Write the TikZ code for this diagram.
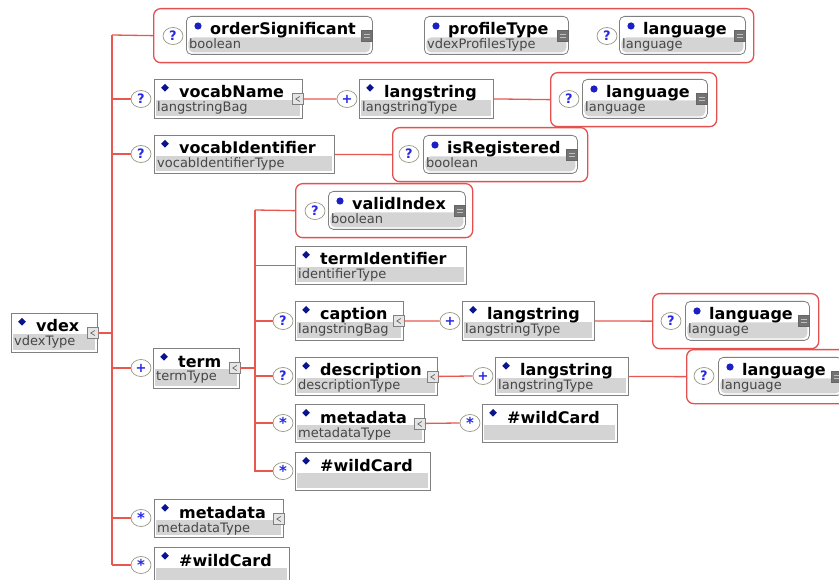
\documentclass[tikz,border=0pt]{standalone}
\usepackage{fontspec}
\setmainfont{DejaVu Sans}
\usetikzlibrary{shapes.geometric,calc}
\definecolor{linered}{RGB}{232,88,80}
\definecolor{grpred}{RGB}{228,80,80}
\definecolor{boxgray}{RGB}{128,128,128}
\definecolor{typegray}{RGB}{212,212,212}
\definecolor{navy}{RGB}{10,20,140}
\definecolor{symblue}{RGB}{40,40,230}
\definecolor{circgray}{RGB}{150,150,130}
\definecolor{typetxt}{RGB}{70,70,70}
\tikzset{
 elbox/.style={draw=boxgray, fill=white, line width=0.8pt, inner sep=0pt, anchor=north west, rectangle,
   path picture={\fill[typegray] ([xshift=2pt,yshift=2pt]path picture bounding box.south west) rectangle ([xshift=-2pt,yshift=-21pt]path picture bounding box.north east);}},
 atbox/.style={elbox, rounded corners=5pt},
 grpbox/.style={draw=grpred, fill=white, line width=1.3pt, rounded corners=7pt, inner sep=0pt, anchor=north west, rectangle},
 ttl/.style={font=\fontsize{16}{18}\selectfont\bfseries, inner sep=0pt, anchor=base west},
 typ/.style={font=\fontsize{13}{14}\selectfont, text=typetxt, inner sep=0pt, anchor=base west},
 occ/.style={ellipse, draw=circgray, fill=white, line width=0.7pt, minimum width=20pt, minimum height=17pt, inner sep=0pt, text=symblue, font=\fontsize{13}{14}\selectfont\bfseries},
 conn/.style={draw=linered, line width=1.3pt},
 trunk/.style={draw=linered, line width=2pt},
}
\newcommand\xgrp[5]{\node[grpbox,minimum width={#4pt-#2pt},minimum height={#5pt-#3pt}] (#1) at (#2,#3) {};}
\newcommand\xel[7]{%
 \node[elbox,minimum width={#4pt-#2pt},minimum height={#5pt-#3pt}] (#1) at (#2,#3) {};
 \fill[navy] ([xshift=11pt,yshift=-5pt]#1.north west) -- ++(3.8pt,-3.8pt) -- ++(-3.8pt,-3.8pt) -- ++(-3.8pt,3.8pt) -- cycle;
 \node[ttl] (#1-t) at ([xshift=25pt,yshift=-19pt]#1.north west) {#6};
 \node[typ] (#1-s) at ([xshift=3pt,yshift=-33pt]#1.north west) {#7};
}
\newcommand\xat[7]{%
 \node[atbox,minimum width={#4pt-#2pt},minimum height={#5pt-#3pt}] (#1) at (#2,#3) {};
 \fill[navy!40!symblue] ([xshift=12pt,yshift=-10pt]#1.north west) circle (3.6pt);
 \node[ttl] (#1-t) at ([xshift=24pt,yshift=-19pt]#1.north west) {#6};
 \node[typ] (#1-s) at ([xshift=3pt,yshift=-33pt]#1.north west) {#7};
}
\newcommand\cicon[1]{%
 \node[draw=boxgray, fill=typegray!60, minimum size=11pt, inner sep=0pt, line width=0.6pt] (#1-i) at ([xshift=-5pt,yshift=-20pt]#1.north east) {};
 \draw[black!60, line width=0.7pt] ([xshift=2pt,yshift=2.5pt]#1-i.center) -- ([xshift=-2pt]#1-i.center) -- ([xshift=2pt,yshift=-2.5pt]#1-i.center);
}
\newcommand\aicon[1]{%
 \node[draw=black!60, fill=black!55, minimum size=11pt, inner sep=0pt, line width=0.6pt] (#1-i) at ([xshift=-6pt,yshift=-20pt]#1.north east) {};
 \draw[white!75!black, line width=0.6pt] ([xshift=-3pt,yshift=1.5pt]#1-i.center) -- ++(6pt,0) ([xshift=-3pt,yshift=-1.5pt]#1-i.center) -- ++(6pt,0);
}
\newcommand\myast{\raisebox{-3pt}{\fontsize{15}{15}\selectfont *}}
\begin{document}
\begin{tikzpicture}[x=1pt,y=-1pt]
\useasboundingbox (0,0) rectangle (839,580);
\clip (0,0) rectangle (839,580);
\fill[white] (0,0) rectangle (839,580);
% groups
\xgrp{grpA}{153}{8}{753}{62}
\xgrp{grpB}{550}{72}{716}{126}
\xgrp{grpC}{392}{127}{587}{181}
\xgrp{grpD}{295}{183}{472}{237}
\xgrp{grpE}{652}{293}{818}{348}
\xgrp{grpF}{686}{349}{852}{403}
% elements
\xat{os}{186}{16}{372}{54}{orderSignificant}{boolean}\aicon{os}
\xat{pt}{424}{16}{568}{54}{profileType}{vdexProfilesType}\aicon{pt}
\xat{lgA}{619}{16}{745}{54}{language}{language}\aicon{lgA}
\xel{vn}{154}{79}{302}{118}{vocabName}{langstringBag}\cicon{vn}
\xel{lsA}{359}{79}{493}{118}{langstring}{langstringType}
\xat{lgB}{582}{79}{707}{118}{language}{language}\aicon{lgB}
\xel{vi}{154}{135}{334}{173}{vocabIdentifier}{vocabIdentifierType}
\xat{ir}{423}{135}{577}{173}{isRegistered}{boolean}\aicon{ir}
\xat{vx}{328}{191}{465}{229}{validIndex}{boolean}\aicon{vx}
\xel{ti}{295}{246}{466}{284}{termIdentifier}{identifierType}
\xel{cap}{295}{301}{403}{340}{caption}{langstringBag}\cicon{cap}
\xel{lsB}{462}{301}{594}{340}{langstring}{langstringType}
\xat{lgC}{685}{301}{809}{340}{language}{language}\aicon{lgC}
\xel{des}{295}{357}{437}{395}{description}{descriptionType}\cicon{des}
\xel{lsC}{495}{357}{628}{395}{langstring}{langstringType}
\xat{lgD}{718}{357}{842}{395}{language}{language}\aicon{lgD}
\xel{mdA}{295}{404}{424}{442}{metadata}{metadataType}\cicon{mdA}
\xel{wcA}{482}{404}{617}{442}{\#wildCard}{}
\xel{wcB}{295}{452}{430}{490}{\#wildCard}{}
\xel{term}{153}{348}{239}{388}{term}{termType}\cicon{term}
\xel{vdex}{11}{313}{97}{352}{vdex}{vdexType}\cicon{vdex}
\xel{mdB}{154}{499}{283}{537}{metadata}{metadataType}\cicon{mdB}
\xel{wcC}{154}{547}{289}{585}{\#wildCard}{}
% occurrence markers
\node[occ] (os-o) at (173,36) {?};
\node[occ] (lgA-o) at (607,36) {?};
\node[occ] (vn-o) at (141,99) {?};
\node[occ] (lsA-o) at (347,99) {+};
\node[occ] (lgB-o) at (569,99) {?};
\node[occ] (vi-o) at (141,154) {?};
\node[occ] (ir-o) at (409,154) {?};
\node[occ] (vx-o) at (315,211) {?};
\node[occ] (cap-o) at (283,321) {?};
\node[occ] (lsB-o) at (450,321) {+};
\node[occ] (lgC-o) at (671,321) {?};
\node[occ] (des-o) at (283,376) {?};
\node[occ] (lsC-o) at (483,376) {+};
\node[occ] (lgD-o) at (704,376) {?};
\node[occ] (mdA-o) at (283,423) {\myast};
\node[occ] (wcA-o) at (470,423) {\myast};
\node[occ] (wcB-o) at (283,471) {\myast};
\node[occ] (term-o) at (141,368) {+};
\node[occ] (mdB-o) at (141,518) {\myast};
\node[occ] (wcC-o) at (141,565) {\myast};
% connectors
\coordinate (tA) at (112,35);
\coordinate (tB) at (255,210);
\draw[trunk] (tA) -- (tA |- wcC-o.west);
\draw[conn] (tA |- wcC-o.west) -- (wcC-o.west);
\draw[conn] (tA) -- (grpA.west);
\draw[conn] (vn-o.west -| tA) -- (vn-o.west);
\draw[conn] (vi-o.west -| tA) -- (vi-o.west);
\draw[conn] (term-o.west -| tA) -- (term-o.west);
\draw[conn] (mdB-o.west -| tA) -- (mdB-o.west);
\draw[trunk] (vdex.east) -- (vdex.east -| tA);
\draw[conn] (vn.east) -- (lsA-o.west);
\draw[conn] (lsA.east) -- (grpB.west);
\draw[conn] (vi.east) -- (grpC.west);
\draw[trunk] (term.east) -- (term.east -| tB);
\draw[conn] (tB) -- (grpD.west);
\draw[conn] (tB) |- (wcB-o.west);
\draw[conn] (ti.west -| tB) -- (ti.west);
\draw[conn] (cap-o.west -| tB) -- (cap-o.west);
\draw[conn] (des-o.west -| tB) -- (des-o.west);
\draw[conn] (mdA-o.west -| tB) -- (mdA-o.west);
\draw[conn] (cap.east) -- (lsB-o.west);
\draw[conn] (lsB.east) -- (grpE.west);
\draw[conn] (des.east) -- (lsC-o.west);
\draw[conn] (lsC.east) -- (grpF.west);
\draw[conn] (mdA.east) -- (wcA-o.west);
\end{tikzpicture}
\end{document}
